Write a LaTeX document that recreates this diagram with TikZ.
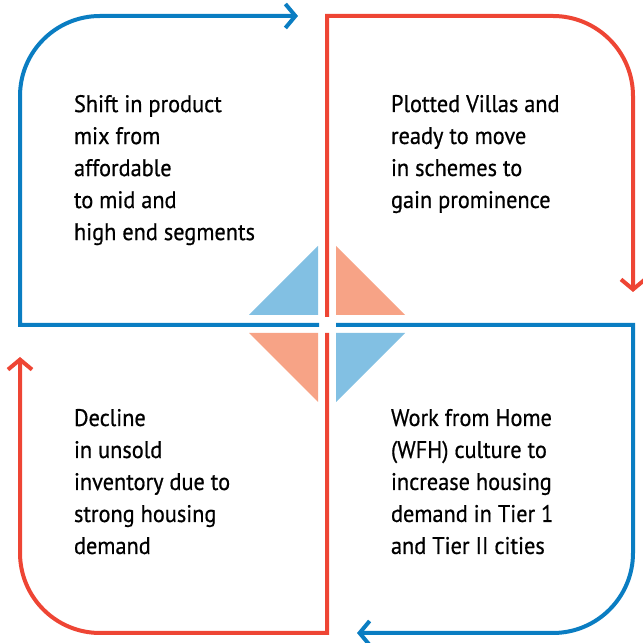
\documentclass[tikz,border=0pt]{standalone}
\usepackage{fontspec}
\setmainfont{PT Sans}[FakeStretch=0.93,FakeBold=0.6]
\usepackage{xcolor}
\usetikzlibrary{arrows.meta,calc,positioning}
\definecolor{loopblue}{HTML}{0A7DC2}
\definecolor{loopred}{HTML}{EE4534}
\definecolor{lightblue}{HTML}{82C0E3}
\definecolor{salmon}{HTML}{F7A386}
\begin{document}
\begin{tikzpicture}[x=0.5pt,y=0.5pt,inner sep=0,outer sep=0,
   loop/.style={line width=2pt,line cap=butt,-{Straight Barb[length=5pt,width=12pt,line width=2pt]}},
   wedge/.style={draw=none},
   label/.style={anchor=north west,align=left,font=\fontsize{12}{16}\selectfont}]

   \useasboundingbox (0,0) rectangle (643,643);

   % Blue loops
   \draw[loop,loopblue] (319,318) -- (20,318) -- (20,547) arc (180:90:80) -- (298,627);
   \draw[loop,loopblue] (336,318) -- (633,318) -- (633,90) arc (0:-90:80) -- (357,10);

   % Red loops
   \draw[loop,loopred] (327,326) -- (327,627) -- (553,627) arc (90:0:80) -- (633,351);
   \draw[loop,loopred] (327,310) -- (327,10) -- (100,10) arc (270:180:80) -- (20,286);

   % Diamond in the middle
   \fill[wedge,lightblue] (249,328) -- (318,397) -- (318,328) -- cycle;
   \fill[wedge,salmon] (336,328) -- (336,397) -- (405,328) -- cycle;
   \fill[wedge,salmon] (249,310) -- (318,310) -- (318,241) -- cycle;
   \fill[wedge,lightblue] (336,310) -- (405,310) -- (336,241) -- cycle;

   % Texts
   \node[label] (shift) at (74,548) {Shift in product\\mix from\\affordable\\to mid and\\high end segments};
   \node[label] (villas) at (391,548) {Plotted Villas and\\ready to move\\in schemes to\\gain prominence};
   \node[label] (decline) at (74,234) {Decline\\in unsold\\inventory due to\\strong housing\\demand};
   \node[label] (wfh) at (391,234) {Work from Home\\(WFH) culture to\\increase housing\\demand in Tier 1\\and Tier II cities};

\end{tikzpicture}
\end{document}
